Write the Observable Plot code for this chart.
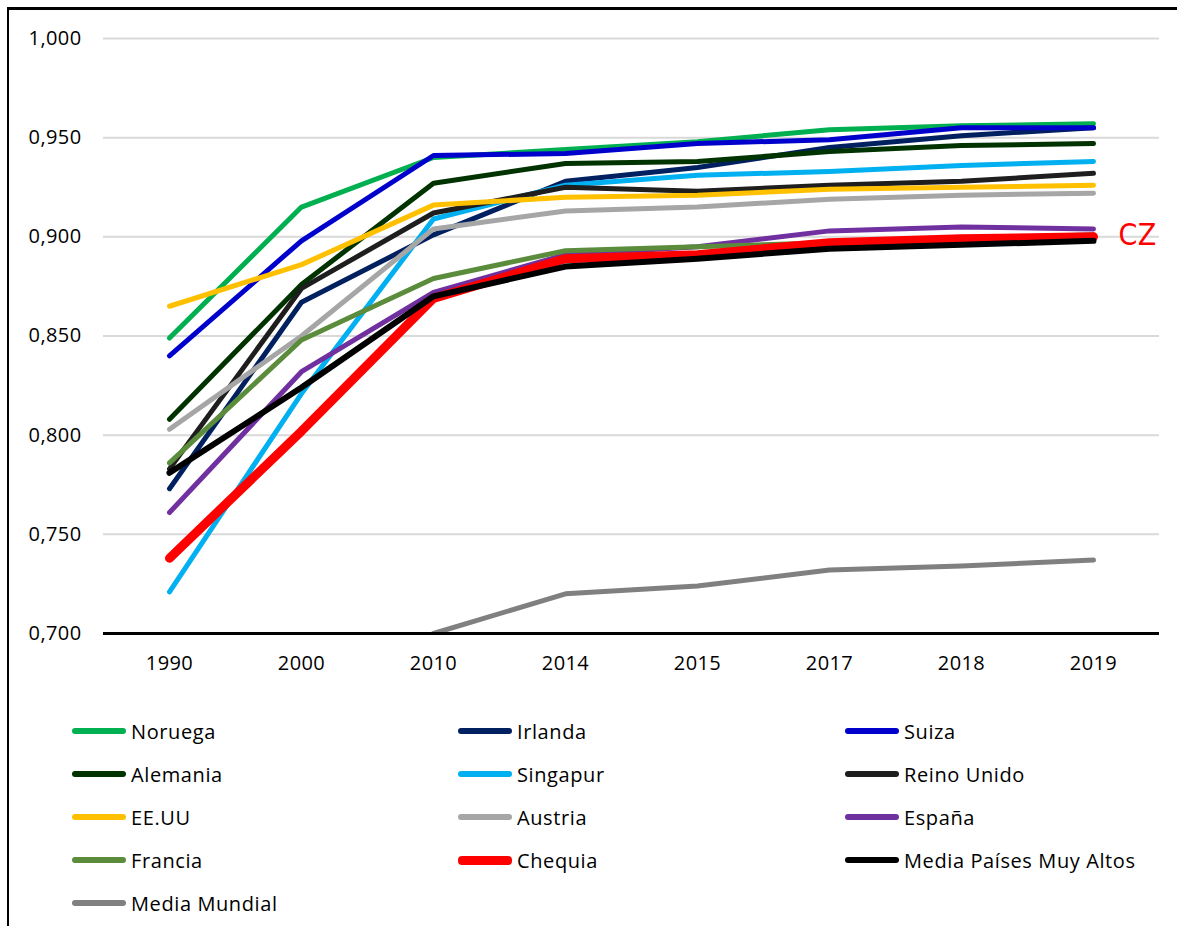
<!DOCTYPE html>
<html>
<head>
<meta charset="utf-8">
<script src="https://cdn.jsdelivr.net/npm/d3@7"></script>
<script src="https://cdn.jsdelivr.net/npm/@observablehq/plot@0.6"></script>
<style>
  html, body { margin: 0; padding: 0; background: #fff; }
  #wrap { position: relative; width: 1177px; height: 926px; overflow: hidden; font-family: "Open Sans", sans-serif; }
  #frame { position: absolute; left: 7px; top: 7px; width: 1300px; height: 1000px; border-left: 2px solid #000; border-top: 3px solid #000; box-sizing: border-box; }
  #chart { position: absolute; left: 0; top: 0; }
  .leg { position: absolute; display: flex; align-items: center; font-size: 20px; letter-spacing: 0.6px; color: #000; white-space: nowrap; }
  .sw { display: inline-block; width: 54px; border-radius: 4px; margin-right: 5px; }
</style>
</head>
<body>
<div id="wrap">
  <div id="frame"></div>
  <div id="chart"></div>
  <div id="legend"></div>
</div>
<script>
const years = ["1990", "2000", "2010", "2014", "2015", "2017", "2018", "2019"];
const yTicks = [0.70, 0.75, 0.80, 0.85, 0.90, 0.95, 1.00];

const noruega     = [0.849, 0.915, 0.940, 0.944, 0.948, 0.954, 0.956, 0.957];
const irlanda     = [0.773, 0.867, 0.901, 0.928, 0.935, 0.945, 0.951, 0.955];
const suiza       = [0.840, 0.898, 0.941, 0.942, 0.947, 0.949, 0.955, 0.955];
const alemania    = [0.808, 0.876, 0.927, 0.937, 0.938, 0.943, 0.946, 0.947];
const singapur    = [0.721, 0.821, 0.909, 0.926, 0.931, 0.933, 0.936, 0.938];
const reinoUnido  = [0.783, 0.874, 0.912, 0.925, 0.923, 0.926, 0.928, 0.932];
const eeuu        = [0.865, 0.886, 0.916, 0.920, 0.921, 0.924, 0.925, 0.926];
const austria     = [0.803, 0.850, 0.904, 0.913, 0.915, 0.919, 0.921, 0.922];
const espana      = [0.761, 0.832, 0.872, 0.891, 0.895, 0.903, 0.905, 0.904];
const francia     = [0.786, 0.848, 0.879, 0.893, 0.895, 0.897, 0.899, 0.901];
const chequia     = [0.738, 0.802, 0.869, 0.889, 0.891, 0.897, 0.899, 0.900];
const mediaMuyAltos = [0.781, 0.824, 0.870, 0.885, 0.889, 0.894, 0.896, 0.898];
const mediaMundial  = [null, null, 0.700, 0.720, 0.724, 0.732, 0.734, 0.737];

const seriesNames = ["Noruega", "Irlanda", "Suiza", "Alemania", "Singapur", "Reino Unido", "EE.UU", "Austria", "España", "Francia", "Chequia", "Media Países Muy Altos", "Media Mundial"];
const seriesValues = [noruega, irlanda, suiza, alemania, singapur, reinoUnido, eeuu, austria, espana, francia, chequia, mediaMuyAltos, mediaMundial];
const seriesColors = ["#00B050", "#002060", "#0000CC", "#003300", "#00B0F0", "#1E1E1E", "#FFC000", "#A6A6A6", "#7030A0", "#5B8C3C", "#FF0000", "#000000", "#808080"];
const seriesWidths = [5, 5, 5, 5, 5, 5, 5, 5, 5, 5, 9, 6, 5];

const fmt = v => d3.format(".3f")(v).replace(".", ",");

const marks = [
  Plot.ruleY(yTicks.filter(t => t > 0.7), {stroke: "#d9d9d9", strokeWidth: 2})
];
seriesNames.forEach((name, i) => {
  const data = years.map((yr, j) => ({year: yr, value: seriesValues[i][j]}));
  marks.push(Plot.line(data, {
    x: "year", y: "value",
    stroke: seriesColors[i], strokeWidth: seriesWidths[i],
    strokeLinecap: "round", strokeLinejoin: "round",
    clip: true
  }));
});
marks.push(Plot.ruleY([0.7], {stroke: "#000", strokeWidth: 3}));
marks.push(Plot.text([{year: "2019", value: chequia[7]}], {
  x: "year", y: "value", text: () => "CZ", dx: 44, dy: -1, fill: "#FF0000",
  fontSize: 30, fontFamily: "'DejaVu Sans Condensed', Roboto, sans-serif", fontWeight: 300, textAnchor: "middle"
}));

const chart = Plot.plot({
  width: 1177,
  height: 690,
  marginTop: 38,
  marginBottom: 57,
  marginLeft: 103,
  marginRight: 18,
  style: {fontSize: "20px", fontFamily: "'Open Sans', sans-serif", letterSpacing: "0.4px", color: "#000", background: "transparent", overflow: "visible"},
  x: {type: "point", domain: years, padding: 0.5, label: null, tickSize: 0, tickPadding: 22},
  y: {domain: [0.7, 1.0], ticks: yTicks, tickFormat: fmt, label: null, tickSize: 0, tickPadding: 22},
  marks
});
document.getElementById("chart").appendChild(chart);

const legend = document.getElementById("legend");
const colX = [72, 458, 845];
seriesNames.forEach((name, i) => {
  const col = i % 3, row = Math.floor(i / 3);
  const d = document.createElement("div");
  d.className = "leg";
  d.style.left = colX[col] + "px";
  d.style.top = (731 + row * 43 - 14) + "px";
  d.style.height = "28px";
  const sw = document.createElement("span");
  sw.className = "sw";
  sw.style.background = seriesColors[i];
  sw.style.height = (i === 10 ? 9 : 6) + "px";
  d.appendChild(sw);
  const t = document.createElement("span");
  t.textContent = name;
  d.appendChild(t);
  legend.appendChild(d);
});
</script>
</body>
</html>
